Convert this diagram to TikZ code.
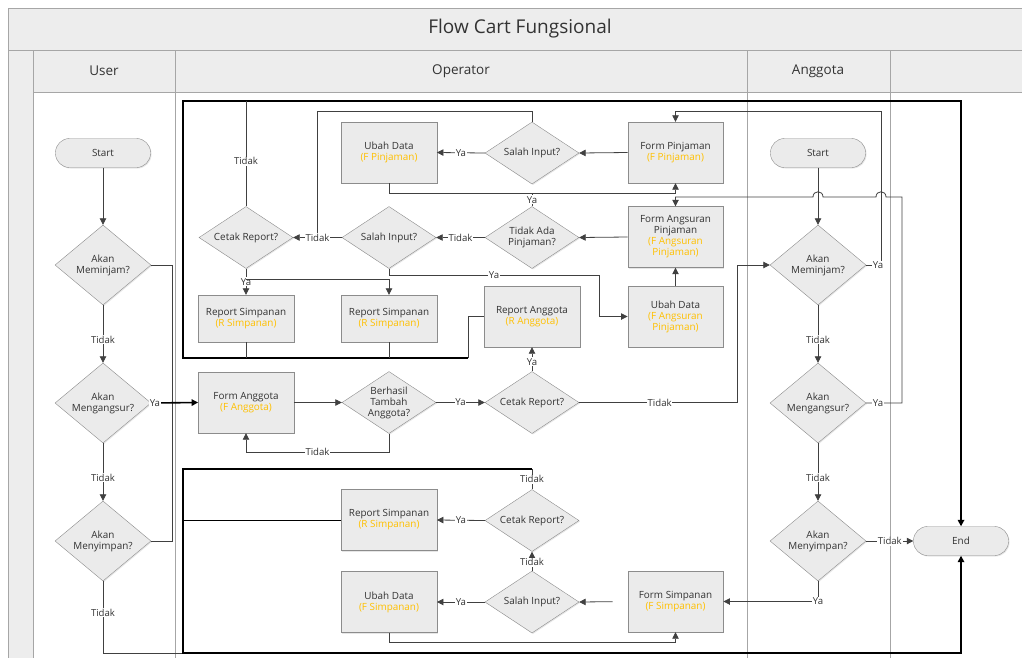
\documentclass[tikz,border=0pt]{standalone}
\usepackage{fontspec}
\setmainfont{Open Sans}
\usetikzlibrary{shapes.geometric,arrows.meta,shadows}
\definecolor{fillg}{HTML}{EBEBEB}
\definecolor{bord}{HTML}{8C8C8C}
\definecolor{txt}{HTML}{333333}
\definecolor{gold}{HTML}{FFC000}
\definecolor{lanec}{HTML}{A6A6A6}
\definecolor{hdr}{HTML}{EDEDED}
\definecolor{cline}{HTML}{404040}
\newcommand{\orsub}[1]{\textcolor{gold}{#1}}
\tikzset{
 base/.style={draw=bord, fill=fillg, text=txt, font=\fontsize{9.9}{11}\selectfont, align=center, inner sep=0pt,
   drop shadow={shadow xshift=1pt, shadow yshift=-1pt, opacity=0.2}},
 proc/.style={base, rectangle, minimum width=95.5pt, minimum height=61pt},
 dec/.style={base, diamond, aspect=1.5, minimum width=94pt, minimum height=62pt},
 bigdec/.style={base, diamond, aspect=1.2, minimum width=96pt, minimum height=80pt},
 term/.style={base, rectangle, rounded corners=14pt, minimum width=95pt, minimum height=29pt},
 tip/.style={-{Triangle[length=6.5pt,width=6.5pt]}},
 conn/.style={draw=cline, line width=0.8pt, tip},
 gline/.style={draw=cline, line width=0.8pt},
 bline/.style={draw=black, line width=1.6pt},
 lbl/.style={fill=white, text=txt, font=\fontsize{9.6}{11}\selectfont, inner sep=0.8pt},
 lanetxt/.style={text=txt, font=\fontsize{13.5}{15}\selectfont},
}
\begin{document}
\begin{tikzpicture}[x=1pt,y=-1pt]
\useasboundingbox (0,0) rectangle (1022,657);
\clip (0,0) rectangle (1022,657);
% pool
\fill[hdr] (8,8) rectangle (1040,50);
\fill[hdr] (8,50) rectangle (33,670);
\fill[hdr] (33,50) rectangle (1040,92);
\draw[lanec, line width=0.8pt] (8,670) -- (8,8) -- (1040,8);
\draw[lanec, line width=0.8pt] (8,50) -- (1040,50);
\draw[lanec, line width=0.8pt] (33,92) -- (1040,92);
\foreach \xx in {33,175,747,890} \draw[lanec, line width=0.8pt] (\xx,50) -- (\xx,670);
\node[text=txt, font=\fontsize{19}{21}\selectfont] (title) at (520,29) {Flow Cart Fungsional};
\node[lanetxt] (lUser) at (104,71) {User};
\node[lanetxt] (lOp) at (461,71) {Operator};
\node[lanetxt] (lAng) at (818,71) {Anggota};

% user lane
\node[term] (uStart) at (103,153) {Start};
\node[bigdec] (uPinjam) at (103,265) {Akan\\Meminjam?};
\node[bigdec] (uAngsur) at (103,403) {Akan\\Mengangsur?};
\node[bigdec] (uSimpan) at (103,541) {Akan\\Menyimpan?};

% operator lane
\node[proc] (ubahFP) at (389,152.5) {Ubah Data\\\orsub{(F Pinjaman)}};
\node[dec] (salah1) at (532,153) {Salah Input?};
\node[proc] (formPinj) at (675.5,152.5) {Form Pinjaman\\\orsub{(F Pinjaman)}};
\node[dec] (cetak1) at (246,237.5) {Cetak Report?};
\node[dec] (salah2) at (389,237.5) {Salah Input?};
\node[dec] (tidakAda) at (532,237.5) {Tidak Ada\\Pinjaman?};
\node[proc] (formAngs) at (675.5,237) {Form Angsuran\\Pinjaman\\\orsub{(F Angsuran}\\\orsub{Pinjaman)}};
\node[proc, minimum height=47pt] (repS1) at (246,318.5) {Report Simpanan\\\orsub{(R Simpanan)}};
\node[proc, minimum height=47pt] (repS2) at (389,318.5) {Report Simpanan\\\orsub{(R Simpanan)}};
\node[proc] (repAng) at (532,316.5) {Report Anggota\\\orsub{(R Anggota)}};
\node[proc] (ubahFA) at (675.5,316.5) {Ubah Data\\\orsub{(F Angsuran}\\\orsub{Pinjaman)}};
\node[proc] (formAgt) at (246,402.5) {Form Anggota\\\orsub{(F Anggota)}};
\node[dec] (berhasil) at (389,402.5) {Berhasil\\Tambah\\Anggota?};
\node[dec] (cetak2) at (532,402.5) {Cetak Report?};
\node[proc] (repS3) at (389,520) {Report Simpanan\\\orsub{(R Simpanan)}};
\node[dec] (cetak3) at (532,520.5) {Cetak Report?};
\node[proc] (ubahFS) at (389,602) {Ubah Data\\\orsub{(F Simpanan)}};
\node[dec] (salah3) at (532,602) {Salah Input?};
\node[proc] (formSimp) at (675.5,601.5) {Form Simpanan\\\orsub{(F Simpanan)}};

% anggota lane
\node[term] (aStart) at (818,153) {Start};
\node[bigdec] (aPinjam) at (818,265) {Akan\\Meminjam?};
\node[bigdec] (aAngsur) at (818,403) {Akan\\Mengangsur?};
\node[bigdec] (aSimpan) at (818,541) {Akan\\Menyimpan?};
\node[term] (endN) at (961,541) {End};

% junction coordinates
\coordinate (uj) at (172,403);
\coordinate (ubot) at (103,653);
\coordinate (tl) at (183,101);
\coordinate (tr) at (961,101);
\coordinate (ml) at (183,358);
\coordinate (ra) at (468,358);
\coordinate (ll) at (183,469);
\coordinate (c469) at (532,469);
\coordinate (bl) at (183,653);
\coordinate (br) at (961,653);
\coordinate (l520) at (183,520);
\coordinate (c1top) at (246,101);
\coordinate (s1b) at (246,358);
\coordinate (s2b) at (389,358);
\coordinate (c1y) at (246,279);
\coordinate (s1l) at (317,111);
\coordinate (s1j) at (317,237.5);
\coordinate (yj) at (532,193);
\coordinate (fpj) at (389,193);
\coordinate (s2r) at (599,275);
\coordinate (s2d) at (389,275);
\coordinate (bt) at (389,452);
\coordinate (btl) at (246,452);
\coordinate (c2r) at (737,402.5);
\coordinate (pr) at (881,265);
\coordinate (pt) at (881,111);
\coordinate (ar) at (902,403);
\coordinate (at) at (902,197);
\coordinate (fsb) at (389,642);

% user connectors
\draw[conn] (uStart) -- (uPinjam);
\draw[conn] (uPinjam) -- node[lbl,pos=0.6]{Tidak} (uAngsur);
\draw[conn] (uAngsur) -- node[lbl,pos=0.6]{Tidak} (uSimpan);
\draw[gline] (uPinjam.east) -| (uj);
\draw[gline] (uSimpan.east) -| (uj);
\draw[bline, tip] (uAngsur.east) -- node[lbl,pos=0.08]{Ya} (formAgt.west);
\draw[gline] (uSimpan.south) -- node[lbl,pos=0.44]{Tidak} (ubot) -- (bl);

% big frames to End
\draw[gline] (repAng.west) -| (ra);
\draw[bline, tip] (ra) -- (ml) -- (tl) -- (tr) -- (endN.north);
\draw[gline] (cetak1.north) -- node[lbl,pos=0.43]{Tidak} (c1top);
\draw[gline] (repS1.south) -- (s1b);
\draw[gline] (repS2.south) -- (s2b);
\draw[gline] (cetak3.north) -- node[lbl]{Tidak} (c469);
\draw[bline, tip] (c469) -- (ll) -- (bl) -- (br) -- (endN.south);
\draw[draw=black, line width=1pt] (repS3.west) -- (l520);

% upper operator block
\draw[conn] (formPinj.west) -- (salah1.east);
\draw[conn] (salah1.west) -- node[lbl]{Ya} (ubahFP.east);
\draw[gline] (salah1.north) |- (s1l) -- (s1j);
\draw[conn] (salah2.west) -- node[lbl]{Tidak} (cetak1.east);
\draw[conn] (tidakAda.west) -- node[lbl]{Tidak} (salah2.east);
\draw[conn] (formAngs.west) -- (tidakAda.east);
\draw[conn] (ubahFP.south) -- (fpj) -| (formPinj.south);
\draw[gline] (tidakAda.north) -- node[lbl]{Ya} (yj);
\draw[conn] (cetak1.south) -- node[lbl]{Ya} (repS1.north);
\draw[conn] (c1y) -| (repS2.north);
\draw[conn] (salah2.south) -- (s2d) -- node[lbl]{Ya} (s2r) |- (ubahFA.west);
\draw[conn] (ubahFA.north) -- (formAngs.south);

% middle row
\draw[conn] (formAgt.east) -- (berhasil.west);
\draw[conn] (berhasil.east) -- node[lbl]{Ya} (cetak2.west);
\draw[conn] (berhasil.south) -- (bt) -- node[lbl]{Tidak} (btl) -- (formAgt.south);
\draw[conn] (cetak2.north) -- node[lbl,pos=0.4]{Ya} (repAng.south);
\draw[conn] (cetak2.east) -- node[lbl,pos=0.51]{Tidak} (c2r) |- (aPinjam.west);

% lower block
\draw[conn] (cetak3.west) -- node[lbl]{Ya} (repS3.east);
\draw[conn] (salah3.north) -- node[lbl,pos=0.45]{Tidak} (cetak3.south);
\draw[conn, shorten <=15pt] (formSimp.west) -- (salah3.east);
\draw[conn] (salah3.west) -- node[lbl]{Ya} (ubahFS.east);
\draw[conn] (ubahFS.south) -- (fsb) -| (formSimp.south);

% anggota connectors
\draw[conn] (aStart) -- (aPinjam);
\draw[conn] (aPinjam) -- node[lbl,pos=0.6]{Tidak} (aAngsur);
\draw[conn] (aAngsur) -- node[lbl,pos=0.6]{Tidak} (aSimpan);
\draw[conn] (aSimpan.east) -- node[lbl]{Tidak} (endN.west);
\draw[conn] (aSimpan.south) |- node[lbl,pos=0.5]{Ya} (formSimp.east);
\draw[conn] (aPinjam.east) -- (pr) -- (pt) -| (formPinj.north);
\node[lbl] (yaP) at (878,265) {Ya};
\draw[conn] (aAngsur.east) -- node[lbl,pos=0.33]{Ya} (ar) -- (at) -- (886,197)
  .. controls (886,190) and (876,190) .. (876,197) -- (823,197)
  .. controls (823,190) and (813,190) .. (813,197) -- (675.5,197) -- (formAngs.north);
\end{tikzpicture}
\end{document}
